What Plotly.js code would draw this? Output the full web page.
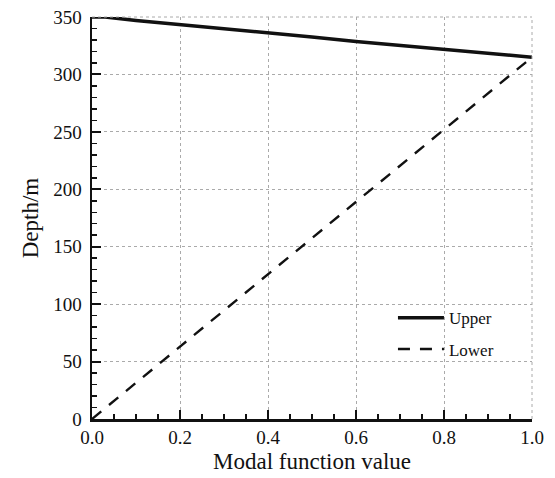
<!DOCTYPE html>
<html>
<head>
<meta charset="utf-8">
<script src="https://cdn.plot.ly/plotly-3.0.1.min.js"></script>
<style>html,body{margin:0;padding:0;background:#fff;}#chart{width:555px;height:478px;}</style>
</head>
<body>
<div id="chart"></div>
<script>
// Data
const upperX = [0, 0.03, 0.1, 0.2, 0.3, 0.4, 0.5, 0.6, 0.7, 0.8, 0.9, 1.0];
const upperY = [350, 350, 347, 343.5, 340, 336, 332.5, 328.7, 325.3, 322, 318.5, 315];
const lowerX = [0, 0.2, 0.4, 0.6, 0.8, 1.0];
const lowerY = [0, 63, 126, 189, 252, 315];
const seriesNames = ['Upper', 'Lower'];
const xTicks = [0, 0.2, 0.4, 0.6, 0.8, 1.0];
const xTickText = ['0.0', '0.2', '0.4', '0.6', '0.8', '1.0'];
const yTicks = [0, 50, 100, 150, 200, 250, 300, 350];

const font = 'Liberation Serif';

const traces = [
  {x: upperX, y: upperY, name: seriesNames[0], legendgroup: 'g1', mode: 'lines', line: {color: '#111', width: 3.5}},
  {x: lowerX, y: lowerY, name: seriesNames[1], legendgroup: 'g2', mode: 'lines', line: {color: '#111', width: 2.4, dash: '12px,10px'}}
];

const axisCommon = {
  showline: true, linecolor: '#111', linewidth: 2.5,
  ticks: 'inside', ticklen: 9, tickwidth: 2, tickcolor: '#111',
  showgrid: true, gridcolor: '#aaa', griddash: 'dot', gridwidth: 1,
  zeroline: false, mirror: false,
  tickfont: {family: font, size: 19, color: '#111'},
  minor: {ticks: 'inside', ticklen: 5, tickwidth: 1.5, tickcolor: '#111', showgrid: false}
};

const layout = {
  width: 555, height: 478,
  margin: {l: 92, r: 23, t: 17, b: 59},
  paper_bgcolor: '#fff', plot_bgcolor: '#fff',
  font: {family: font, color: '#111'},
  showlegend: true,
  legend: {x: 0.684, y: 0.212, xanchor: 'left', yanchor: 'middle', bgcolor: 'rgba(0,0,0,0)',
           itemwidth: 46, traceorder: 'grouped',
           font: {family: font, size: 17, color: '#111'}, tracegroupgap: 6},
  xaxis: Object.assign({}, axisCommon, {
    range: [0, 1.0], tickvals: xTicks, ticktext: xTickText,
    minor: Object.assign({}, axisCommon.minor, {dtick: 0.05}),
    title: {text: 'Modal function value', font: {family: font, size: 23, color: '#111'}, standoff: 6}
  }),
  yaxis: Object.assign({}, axisCommon, {
    range: [0, 350], tickvals: yTicks,
    minor: Object.assign({}, axisCommon.minor, {dtick: 10}),
    ticklabelstandoff: 4,
    title: {text: 'Depth/m', font: {family: font, size: 23, color: '#111'}, standoff: 8}
  }),
  shapes: [
    {type: 'line', xref: 'paper', yref: 'paper', x0: 0, x1: 1, y0: 1, y1: 1, line: {color: '#aaa', width: 1, dash: 'dot'}},
    {type: 'line', xref: 'paper', yref: 'paper', x0: 1, x1: 1, y0: 0, y1: 1, line: {color: '#aaa', width: 1, dash: 'dot'}}
  ]
};

Plotly.newPlot('chart', traces, layout, {displayModeBar: false, staticPlot: true});
</script>
</body>
</html>
